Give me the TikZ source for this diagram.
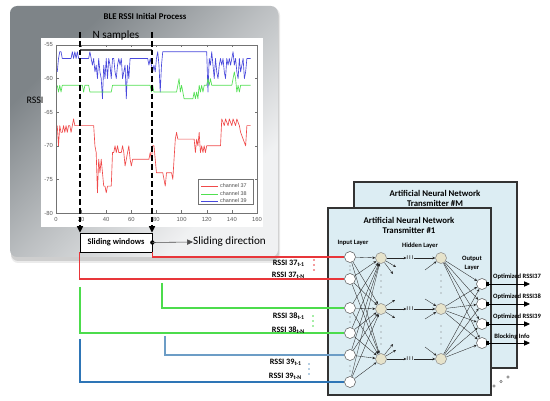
\documentclass[tikz,border=0pt]{standalone}
\usepackage{fontspec}
\setmainfont{Carlito}
\newfontfamily\plotfont{Liberation Sans}
\usetikzlibrary{arrows.meta,calc}
\definecolor{cred}{HTML}{E8363A}
\definecolor{cgreen}{HTML}{4CDC4C}
\definecolor{cblue}{HTML}{2E75B6}
\definecolor{csteel}{HTML}{6C9DC6}
\definecolor{pred}{HTML}{F04A4A}
\definecolor{pgreen}{HTML}{50E050}
\definecolor{pblue}{HTML}{4848DC}
\definecolor{nnc}{HTML}{DCEDF3}
\definecolor{hidc}{HTML}{E6E3CB}
\definecolor{pdark}{HTML}{7E8488}
\definecolor{plight}{HTML}{F0F1F2}
\pgfdeclarehorizontalshading{panelshade}{100bp}{color(0bp)=(pdark); color(28bp)=(pdark); color(50bp)=(pdark!45!plight); color(70bp)=(plight); color(100bp)=(plight)}
\newcommand\fsize[1]{\fontsize{#1}{#1}\selectfont}
\begin{document}
\begin{tikzpicture}[x=0.03cm,y=-0.03cm,
  inp/.style={circle,draw=black!65,fill=white,line width=0.45pt,minimum size=0.33cm,inner sep=0pt},
  hid/.style={circle,draw=black!45,fill=hidc,line width=0.45pt,minimum size=0.33cm,inner sep=0pt},
  conn/.style={draw=black!85,line width=0.3pt,-{Stealth[length=2.4pt,width=2.2pt]}},
  nnpanel/.style={draw=black!80,line width=0.9pt,fill=nnc},
  feed/.style={line width=0.9pt},
  lab/.style={font=\fsize{7}\bfseries,anchor=east,inner sep=0pt},
  outlab/.style={font=\fsize{5.6}\bfseries,inner sep=0pt},
  layerlab/.style={font=\fsize{5.6}\bfseries,inner sep=0pt,align=center},
  tick/.style={font=\plotfont\fsize{5},text=black!65,inner sep=0pt},
  vdot/.style={fill=black!55},
  outarrow/.style={line width=0.6pt,-{Triangle[length=5pt,width=4.5pt]}},
  sq/.style={fill=black,minimum size=0.1cm,inner sep=0pt}]
\useasboundingbox (0,0) rectangle (550,401);

% ---------- left gray panel ----------
\fill[black,opacity=0.12,rounded corners=6pt] (11,9) rectangle (279,261);
\fill[black,opacity=0.08,rounded corners=6pt] (11,8) rectangle (280,263);
\begin{scope}[yscale=-1]
\shade[rounded corners=6pt,shading=panelshade,shading angle=-45]
  (10,-6) rectangle (278,-257);
\end{scope}
\node[font=\fsize{7.5}\bfseries] (title) at (145,16) {BLE RSSI Initial Process};

% chart
\fill[white] (41,38) rectangle (263,227);
\draw[black!55,line width=0.4pt] (56,45) rectangle (257,213);
\foreach \k [evaluate=\k as \xx using 56+25.125*\k, evaluate=\k as \lab using int(20*\k)] in {0,...,8}{
  \draw[black!55,line width=0.4pt] (\xx,213) -- ++(0,-2.5) (\xx,45) -- ++(0,2.5);
  \node[tick] at (\xx,219.5) {\lab};
}
\foreach \v [evaluate=\v as \yy using 45+6.72*(-55-\v)] in {-55,-60,...,-80}{
  \draw[black!55,line width=0.4pt] (56,\yy) -- ++(2.5,0) (257,\yy) -- ++(-2.5,0);
  \node[tick,anchor=east] at (53,\yy) {\v};
}
\node[font=\fsize{8.5}] (rssi) at (35,100) {RSSI};

\begin{scope}[shift={(1.68cm,9.738cm)},x=0.03768cm,y=0.2016cm,line width=0.55pt,line join=round]
\draw[pblue] plot coordinates {(1,-59)(2,-57)(3,-56)(4,-56)(5,-57)(12,-57)(13,-56)(14,-57)(15,-56)(16,-57)(17,-56)(18,-57)(26,-57)(27,-56)(28,-57)(29,-58)(30,-57)(31,-59)(32,-58)(33,-60)(34,-57)(35,-59)(36,-60)(37,-63)(38,-58)(39,-60)(40,-57)(41,-60)(42,-57)(43,-58)(44,-60)(45,-57)(46,-57)(47,-59)(48,-60)(49,-58)(50,-57)(51,-58)(52,-57)(53,-60)(54,-59)(55,-58)(56,-63)(57,-58)(58,-60)(59,-57)(73,-57)(74,-58)(75,-57)(76,-58)(77,-59)(78,-58)(79,-59)(80,-57)(81,-56)(82,-58)(83,-62)(84,-58)(85,-56)(120,-56)(121,-62)(122,-57)(123,-58)(124,-56)(125,-58)(126,-60)(127,-57)(128,-59)(129,-60)(130,-58)(131,-57)(132,-58)(133,-57)(134,-59)(135,-60)(136,-57)(137,-58)(138,-57)(139,-58)(140,-57)(141,-56)(142,-58)(143,-57)(144,-59)(145,-60)(146,-57)(147,-59)(148,-58)(149,-57)(150,-60)(151,-59)(152,-57)(155,-57)};
\draw[pgreen] plot coordinates {(1,-61)(2,-62)(3,-61)(4,-62)(5,-61)(21,-61)(22,-62)(23,-61)(26,-61)(27,-62)(44,-62)(45,-61)(75,-61)(76,-62)(77,-61)(78,-62)(96,-62)(97,-61)(98,-60)(99,-62)(100,-61)(101,-62)(102,-63)(109,-63)(110,-62)(111,-63)(112,-62)(113,-63)(114,-61)(115,-62)(116,-61)(117,-62)(118,-61)(120,-61)(121,-60)(122,-61)(123,-60)(124,-61)(140,-61)(142,-59)(143,-60)(144,-62)(145,-61)(146,-62)(147,-61)(155,-61)};
\draw[pred] plot coordinates {(1,-67)(2,-70)(3,-67)(4,-68)(5,-68)(6,-67)(7,-68)(8,-67)(9,-68)(10,-67)(11,-67)(12,-68)(13,-67)(14,-66)(15,-67)(30,-67)(31,-70)(32,-71)(33,-77)(34,-72)(35,-74)(36,-72)(37,-74)(38,-76)(39,-76)(40,-77)(41,-76)(44,-76)(45,-71)(46,-71)(47,-70)(48,-71)(49,-70)(50,-71)(52,-71)(53,-70)(54,-71)(55,-73)(56,-72)(57,-71)(58,-70)(59,-72)(60,-73)(61,-72)(74,-72)(75,-71)(76,-72)(77,-70)(78,-70)(79,-72)(80,-74)(85,-74)(86,-75)(87,-76)(88,-74)(92,-74)(93,-75)(95,-69)(96,-68)(97,-69)(110,-69)(111,-71)(112,-69)(113,-70)(114,-68)(115,-71)(116,-70)(117,-71)(118,-70)(119,-71)(120,-70)(131,-70)(132,-66)(134,-67)(135,-66)(137,-67)(138,-66)(140,-67)(141,-66)(143,-67)(144,-66)(146,-67)(147,-68)(149,-69)(151,-70)(152,-67)(155,-67)};
\end{scope}

% legend
\draw[black!55,fill=white,line width=0.35pt] (198,179) rectangle (253,204);
\foreach \c/\t/\yy in {pred/37/186,pgreen/38/194,pblue/39/201}{
  \draw[\c,line width=0.6pt] (201,\yy) -- (218,\yy);
  \node[tick,anchor=west,text=black!70,font=\plotfont\fsize{4.6}] at (220,\yy) {channel \t};
}

% sliding window
\coordinate (dA) at (80,32);
\coordinate (dB) at (152,32);
\coordinate (bA) at (80,50);
\coordinate (bB) at (152,50);
\draw[line width=1.6pt,black!65] (bA) -- (bB);
\node[font=\fsize{9.5}] (ns) at (116,36) {N samples};
\node[draw=black,fill=white,line width=0.6pt,minimum width=2.16cm,minimum height=0.57cm,inner sep=0pt,
  font=\fsize{7.2}\bfseries] (sw) at (116,242.5) {Sliding windows};
\draw[line width=1.3pt,dash pattern=on 5pt off 2.5pt,-{Triangle[length=5.5pt,width=5pt]}] (dA) -- (dA |- sw.north);
\draw[line width=1.3pt,dash pattern=on 5pt off 2.5pt,-{Triangle[length=5.5pt,width=5pt]}] (dB) -- (dB |- sw.north);
\fill (sw.east) circle (2.2);
\node[font=\fsize{9.5},anchor=west,inner sep=0pt] (sd) at (193,242) {Sliding direction};
\draw[black!70,line width=0.5pt,-{Triangle[length=5pt,width=4.5pt]}] (sw.east) -- (sd.west);

% ---------- neural network panels ----------
\draw[nnpanel] (354,182) rectangle (517,368);
\node[font=\fsize{7.5}\bfseries,align=center,inner sep=0pt] (tM) at (435,198) {Artificial Neural Network\\[1pt]Transmitter \#M};
\draw[nnpanel] (328,208) rectangle (491,395);
\node[font=\fsize{7.5}\bfseries,align=center,inner sep=0pt] (t1) at (409,225) {Artificial Neural Network\\[1pt]Transmitter \#1};
\foreach \xx/\yy in {494/386,501/381.5,508/377}{\draw[black!55,line width=0.4pt] (\xx,\yy) circle (1.2);}

\node[layerlab] (il) at (353,243) {Input Layer};
\node[layerlab] (hl) at (420,246) {Hidden Layer};
\node[layerlab] (ol) at (472,263) {Output\\[2pt]Layer};

% nodes
\foreach \n/\yy in {1/257,2/279,3/308,4/333,5/355,6/382}{\node[inp] (I\n) at (350,\yy) {};}
\foreach \n/\yy in {1/258,2/309,3/359}{
  \node[hid] (H\n) at (381,\yy) {};
  \node[hid] (G\n) at (441,\yy) {};
  \node[font=\fsize{5}\bfseries,text=black!70,inner sep=0pt] (M\n) at (410,\yy) {I\,I\,I};
}
\foreach \n/\yy in {1/284,2/304,3/324,4/343}{\node[inp] (O\n) at (482,\yy) {};}

% vertical dots
\foreach \yy in {266,270,317,322,366,371}{\fill[vdot] (350,\yy) circle (0.6);}
\foreach \yy in {275,281,287,293,326,332,338,344}{\fill[vdot] (381,\yy) circle (0.6); \fill[vdot] (441,\yy) circle (0.6);}

% connections
\foreach \i in {1,...,6}{\foreach \h in {1,2,3}{\draw[conn] (I\i) -- (H\h);}}
\foreach \g in {1,2,3}{\foreach \o in {1,...,4}{\draw[conn] (G\g) -- (O\o);}}
\foreach \h in {1,2,3}{
  \draw[conn] (H\h) -- (M\h);
  \draw[conn] (M\h) -- (G\h);
}
\draw[conn] (H1) -- ++(15,9);
\draw[conn] (H1) -- ++(12,16);
\draw[conn] (H2) -- ++(14,-9);
\draw[conn] (H2) -- ++(14,9);
\draw[conn] (H3) -- ++(15,-9);
\draw[conn] (H3) -- ++(12,-15);
\draw[conn] (G1) ++(-16,12) -- (G1);
\draw[conn] (G2) ++(-16,-10) -- (G2);
\draw[conn] (G2) ++(-16,10) -- (G2);
\draw[conn] (G3) ++(-16,-12) -- (G3);

% outputs
\foreach \n/\yy in {1/284,2/304,3/324,4/343}{
  \coordinate (E\n) at (530,\yy);
  \draw[outarrow] (O\n.east) -- (E\n);
  \node[sq] at (O\n.east) {};
}
\node[outlab] (ot1) at (517,277) {Optimized RSSI37};
\node[outlab] (ot2) at (517,297) {Optimized RSSI38};
\node[outlab] (ot3) at (517,317) {Optimized RSSI39};
\node[outlab] (ot4) at (512,337) {Blocking Info};

% ---------- feed lines ----------
\coordinate (g1) at (162,283);
\coordinate (g2) at (80,287);
\coordinate (b1) at (165,336);
\coordinate (b2) at (80,339);
\draw[feed,cred] (sw.south east) |- (I1);
\draw[feed,cred] (sw.south west) |- (I2);
\draw[feed,cgreen] (g1) |- (I3);
\draw[feed,cgreen] (g2) |- (I4);
\draw[feed,csteel] (b1) |- (I5);
\draw[feed,cblue] (b2) |- (I6);

\node[lab] (r1) at (305,263) {RSSI 37\textsubscript{t-1}};
\node[lab] (r2) at (305,275) {RSSI 37\textsubscript{t-N}};
\node[lab] (r3) at (305,316) {RSSI 38\textsubscript{t-1}};
\node[lab] (r4) at (305,330) {RSSI 38\textsubscript{t-N}};
\node[lab] (r5) at (302,362) {RSSI 39\textsubscript{t-1}};
\node[lab] (r6) at (302,376) {RSSI 39\textsubscript{t-N}};
\foreach \yy in {260,265,270}{\fill[cred] (314,\yy) circle (0.8);}
\foreach \yy in {316,321,326}{\fill[cgreen] (313,\yy) circle (0.8);}
\foreach \yy in {364,369,374}{\fill[csteel] (309,\yy) circle (0.8);}
\end{tikzpicture}
\end{document}
